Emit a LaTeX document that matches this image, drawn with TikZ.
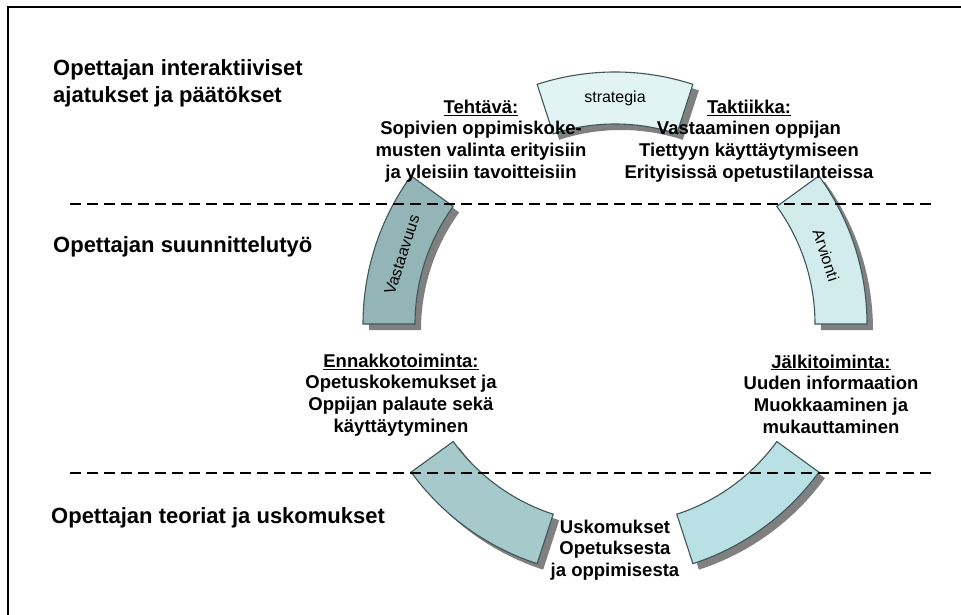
\documentclass[tikz,border=0pt]{standalone}
\usepackage{fontspec}
\setmainfont{Liberation Sans}
\definecolor{segline}{HTML}{3F5759}
\definecolor{shadowgray}{HTML}{808080}
\definecolor{fillstrat}{HTML}{E1F3F3}
\definecolor{fillarv}{HTML}{D2ECEE}
\definecolor{fillvast}{HTML}{94B5B7}
\definecolor{fillbl}{HTML}{A6C9CB}
\definecolor{fillbr}{HTML}{B9E0E4}
% ring segment between two angles, inner/outer radius fixed
\newcommand\ringpath[2]{([shift={(615,-324)}]#1:252) arc[start angle=#1,end angle=#2,radius=252]
  -- ([shift={(615,-324)}]#2:200) arc[start angle=#2,end angle=#1,radius=200] -- cycle}
\begin{document}
\begin{tikzpicture}[x=1pt,y=1pt,
  seg/.style={draw=segline, line width=1.1pt, line join=miter},
  heading/.style={font=\fontsize{22}{27}\selectfont\bfseries, anchor=west, align=left, inner sep=0pt},
  body/.style={font=\fontsize{18.5}{21.7}\selectfont\bfseries, align=center, inner sep=0pt},
  seglabel/.style={font=\fontsize{16}{18}\selectfont, inner sep=0pt},
  divider/.style={line width=1.6pt, dash pattern=on 11pt off 6pt}]
\useasboundingbox (0,0) rectangle (961,-615);
\draw[line width=1.8pt] (8,-7) rectangle (975,-630);
\coordinate (C) at (615,-324);

% drop shadows of the ring segments
\begin{scope}[shift={(6,-6)}]
  \foreach \a in {0,72,144,216,288}{
    \pgfmathtruncatemacro\b{\a+36}
    \fill[shadowgray] \ringpath{\a}{\b};
  }
\end{scope}

% ring segments
\filldraw[seg, fill=fillarv]   \ringpath{0}{36};
\filldraw[seg, fill=fillstrat] \ringpath{72}{108};
\filldraw[seg, fill=fillvast]  \ringpath{144}{180};
\filldraw[seg, fill=fillbl]    \ringpath{216}{252};
\filldraw[seg, fill=fillbr]    \ringpath{288}{324};

\node[seglabel] (strat) at ([shift={(C)}]90:226) {strategia};
\node[seglabel, rotate=72] (vast) at ([shift={(C)}]162:224) {Vastaavuus};
\node[seglabel, rotate=-72] (arv) at ([shift={(C)}]18:222) {Arvionti};

% headings on the left
\node[heading] (h1) at (53,-83.5) {Opettajan interaktiiviset\\ajatukset ja päätökset};
\node[heading] (h2) at (53,-247) {Opettajan suunnittelutyö};
\node[heading] (h3) at (51,-518) {Opettajan teoriat ja uskomukset};

% text blocks around the ring
\node[body] (task) at (481,-141) {\underline{Tehtävä:}\\Sopivien oppimiskoke-\\musten valinta erityisiin\\ja yleisiin tavoitteisiin};
\node[body] (tactic) at (749,-141) {\underline{Taktiikka:}\\Vastaaminen oppijan\\Tiettyyn käyttäytymiseen\\Erityisissä opetustilanteissa};
\node[body] (pre) at (401,-395) {\underline{Ennakkotoiminta:}\\Opetuskokemukset ja\\Oppijan palaute sekä\\käyttäytyminen};
\node[body] (post) at (831,-394) {\underline{Jälkitoiminta:}\\Uuden informaation\\Muokkaaminen ja\\mukauttaminen};
\node[body] (belief) at (615,-550) {Uskomukset\\Opetuksesta\\ja oppimisesta};

% dashed dividers between the levels
\coordinate (d1a) at (70,-204);
\coordinate (d1b) at (932,-204);
\coordinate (d2a) at (70,-473);
\coordinate (d2b) at (932,-473);
\draw[divider] (d1a) -- (d1b);
\draw[divider] (d2a) -- (d2b);
\end{tikzpicture}
\end{document}
